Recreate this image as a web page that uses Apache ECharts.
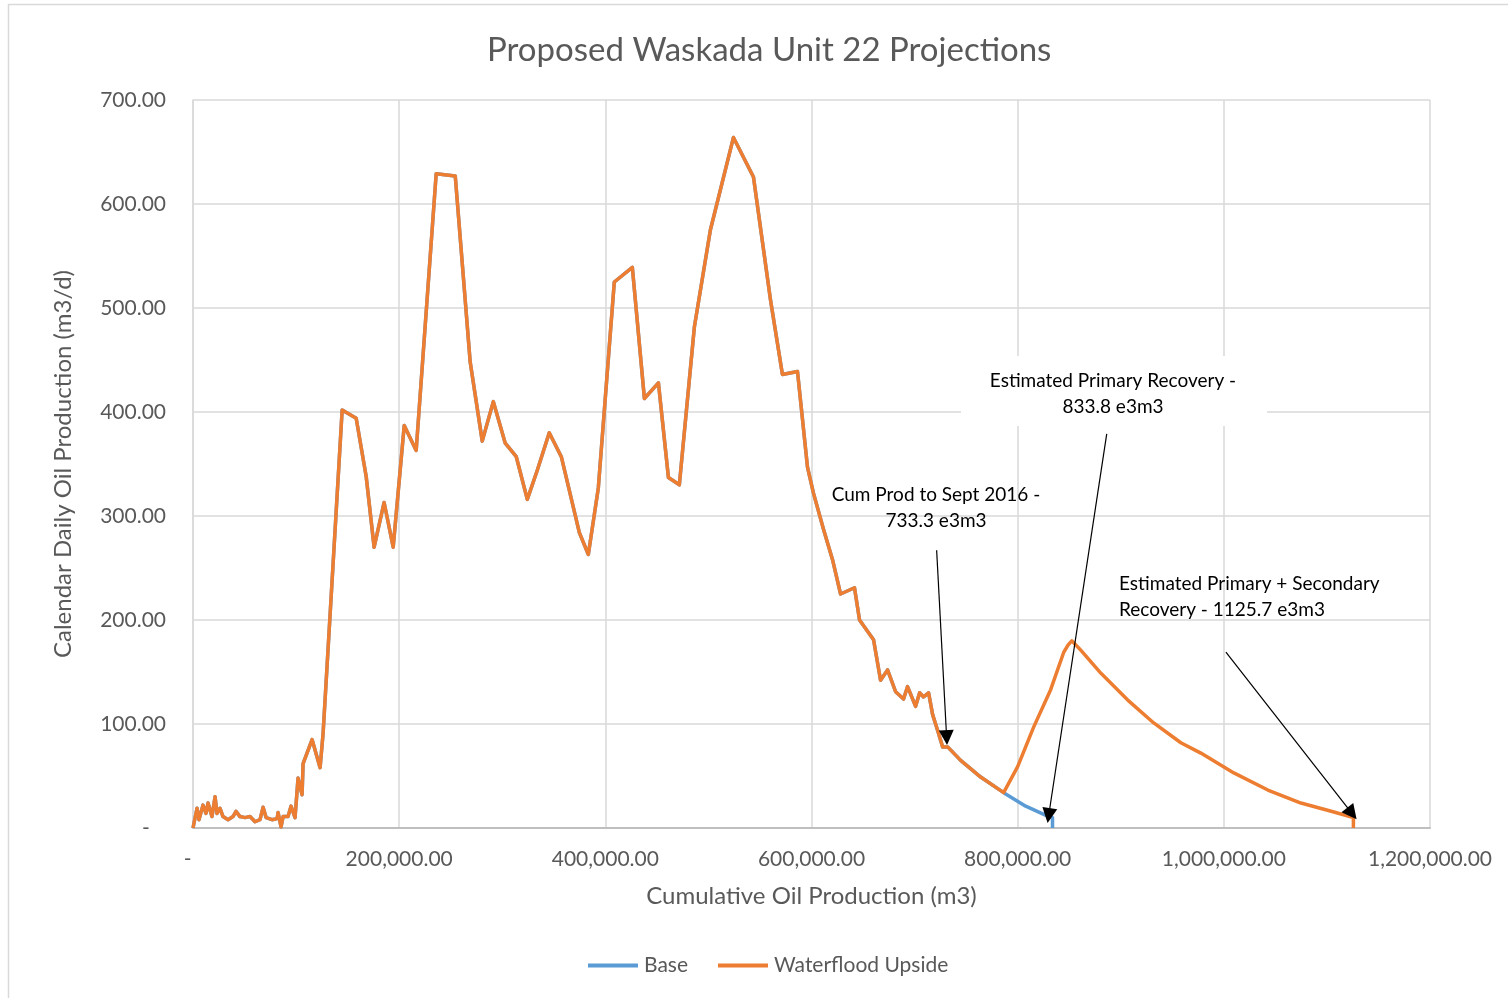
<!DOCTYPE html>
<html>
<head>
<meta charset="utf-8">
<script src="https://cdn.jsdelivr.net/npm/echarts@6/dist/echarts.min.js"></script>
<style>
  html, body { margin: 0; padding: 0; background: #fff; }
  #main { width: 1508px; height: 998px; }
</style>
</head>
<body>
<div id="main"></div>
<script>
// 历史产量 (cumulative m3, daily rate m3/d)
const histCum = [0, 3900, 5800, 9700, 12600, 14600, 18400, 21400, 23300, 26200, 29100, 34000, 38800, 41700, 45600,
  50500, 55300, 60200, 65000, 68000, 70900, 76700, 81600, 82500, 85400, 87400, 92200, 95100, 99000, 101900,
  105800, 106800, 115500, 123300, 126200, 144700, 158300, 168000, 175700, 185400, 194200, 204900, 216500,
  235900, 254400, 268900, 280600, 291300, 302900, 313600, 324300, 334000, 345600, 357300, 374800, 383500,
  393200, 408700, 426200, 437900, 451500, 461200, 471800, 486400, 501900, 524300, 543700, 560200, 571800,
  586400, 596100, 601900, 611700, 620400, 628200, 641700, 646600, 660200, 667000, 673800, 681600, 689300,
  693200, 701000, 704900, 708700, 713600, 717500, 722300, 727200, 732100, 744700, 764100, 786400];
const histRate = [0, 19, 8, 22, 14, 24, 11, 30, 14, 19, 11, 8, 11, 16, 11,
  10, 11, 6, 8, 20, 10, 8, 9, 15, 1, 11, 11, 21, 10, 48,
  32, 62, 85, 58, 91, 402, 394, 338, 270, 313, 270, 387, 363,
  629, 627, 448, 372, 410, 370, 357, 316, 344, 380, 357, 284, 263,
  327, 525, 539, 413, 428, 337, 330, 482, 575, 664, 626, 508, 436,
  439, 347, 322, 287, 258, 225, 231, 200, 181, 142, 152, 131, 124,
  136, 117, 130, 126, 130, 109, 94, 78, 78, 65, 49, 34];

// Base 预测
const baseCum = [807800, 830100, 833800, 833800];
const baseRate = [21, 11, 10, 0];

// Waterflood 预测
const upCum = [800000, 815500, 832000, 844700, 849000, 852500, 861200, 880600, 906800, 932000, 958300,
  977700, 1009700, 1042700, 1074800, 1106800, 1125700, 1125700];
const upRate = [59, 97, 133, 169, 176, 180, 171, 149, 123, 101, 82,
  72, 53, 36.5, 24, 15.4, 10, 0];

const xTicks = [0, 200000, 400000, 600000, 800000, 1000000, 1200000];
const yTicks = [0, 100, 200, 300, 400, 500, 600, 700];

function pairs(xs, ys) {
  return xs.map((x, i) => [x, ys[i]]);
}
const baseData = pairs(histCum.concat(baseCum), histRate.concat(baseRate));
const upData = pairs(histCum.concat(upCum), histRate.concat(upRate));

const FONT = 'Lato';
const GREY = '#595959';

const myChart = echarts.init(document.getElementById('main'));

const option = {
  animation: false,
  backgroundColor: '#fff',
  textStyle: { fontFamily: FONT },
  title: {
    text: 'Proposed Waskada Unit 22 Projections',
    left: 482,
    top: 29,
    textStyle: { fontFamily: FONT, fontSize: 33, fontWeight: 'normal', color: GREY }
  },
  legend: {
    bottom: 17,
    left: 583,
    icon: 'rect',
    itemWidth: 50,
    itemHeight: 4,
    itemGap: 30,
    textStyle: { fontFamily: FONT, fontSize: 21, color: GREY, padding: [0, 0, 0, 1] },
    data: ['Base', 'Waterflood Upside']
  },
  grid: { left: 193, right: 78, top: 100, bottom: 170 },
  xAxis: {
    type: 'value',
    min: xTicks[0],
    max: xTicks[xTicks.length - 1],
    interval: xTicks[1] - xTicks[0],
    name: 'Cumulative Oil Production (m3)',
    nameLocation: 'middle',
    nameGap: 56,
    nameTextStyle: { fontFamily: FONT, fontSize: 24, color: GREY },
    axisLine: { show: true, lineStyle: { color: '#bfbfbf', width: 2 } },
    axisTick: { show: false },
    axisLabel: {
      fontFamily: FONT, fontSize: 21, color: GREY, margin: 21,
      formatter: v => v === 0 ? '-  ' : v.toLocaleString('en-US', { minimumFractionDigits: 2, maximumFractionDigits: 2 })
    },
    splitLine: { show: true, lineStyle: { color: '#d9d9d9', width: 1.5 } }
  },
  yAxis: {
    type: 'value',
    min: yTicks[0],
    max: yTicks[yTicks.length - 1],
    interval: yTicks[1] - yTicks[0],
    name: 'Calendar Daily Oil Production (m3/d)',
    nameLocation: 'middle',
    nameGap: 118,
    nameTextStyle: { fontFamily: FONT, fontSize: 24, color: GREY },
    axisLine: { show: true, lineStyle: { color: '#d9d9d9', width: 1.5 } },
    axisTick: { show: false },
    axisLabel: {
      fontFamily: FONT, fontSize: 21, color: GREY, margin: 27,
      formatter: v => v === 0 ? '-   ' : v.toFixed(2)
    },
    splitLine: { show: true, lineStyle: { color: '#d9d9d9', width: 1.5 } }
  },
  series: [
    {
      name: 'Base',
      type: 'line',
      data: baseData,
      showSymbol: false,
      color: '#5B9BD5',
      lineStyle: { width: 3.5, color: '#5B9BD5', join: 'round' }
    },
    {
      name: 'Waterflood Upside',
      type: 'line',
      data: upData,
      showSymbol: false,
      color: '#ED7D31',
      lineStyle: { width: 3.5, color: '#ED7D31', join: 'round' },
      markLine: {
        silent: true,
        symbol: ['none', 'triangle'],
        symbolSize: 15,
        label: { show: false },
        itemStyle: { color: '#000' },
        lineStyle: { color: '#000', width: 1.2, type: 'solid' },
        emphasis: { disabled: true },
        data: [
          [{ coord: [721400, 267] }, { coord: [731100, 87] }],
          [{ coord: [886400, 379] }, { coord: [830100, 12] }],
          [{ coord: [1002000, 169] }, { coord: [1124300, 14] }]
        ]
      }
    }
  ],
  graphic: [
    {
      type: 'rect', z: 0, silent: true,
      shape: { x: 8.5, y: 4.5, width: 1520, height: 1010 },
      style: { fill: null, stroke: '#d9d9d9', lineWidth: 1.5 }
    },
    {
      type: 'rect', z: 50, silent: true,
      shape: { x: 961, y: 356, width: 306, height: 70 },
      style: { fill: '#fff' }
    },
    {
      type: 'text', z: 60, silent: true,
      style: {
        text: 'Estimated Primary Recovery -\n833.8 e3m3', x: 1113, y: 394,
        align: 'center', verticalAlign: 'middle', lineHeight: 26,
        fontFamily: FONT, fontSize: 19, fill: '#000'
      }
    },
    {
      type: 'text', z: 60, silent: true,
      style: {
        text: 'Cum Prod to Sept 2016 -\n733.3 e3m3', x: 936, y: 508,
        align: 'center', verticalAlign: 'middle', lineHeight: 26,
        fontFamily: FONT, fontSize: 19, fill: '#000'
      }
    },
    {
      type: 'text', z: 60, silent: true,
      style: {
        text: 'Estimated Primary + Secondary\nRecovery - 1125.7 e3m3', x: 1119, y: 597,
        align: 'left', verticalAlign: 'middle', lineHeight: 26,
        fontFamily: FONT, fontSize: 19, fill: '#000'
      }
    }
  ]
};

myChart.setOption(option);
</script>
</body>
</html>
